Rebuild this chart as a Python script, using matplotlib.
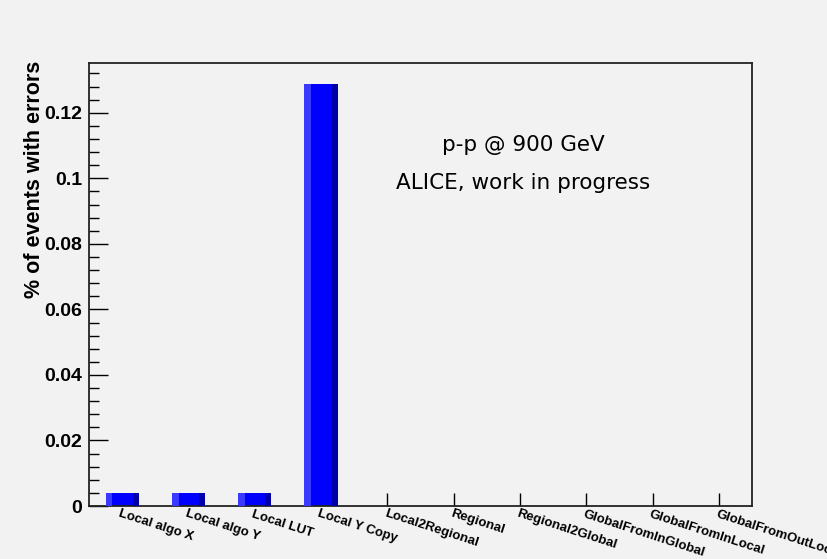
import matplotlib.pyplot as plt
import matplotlib.transforms as mtransforms
from matplotlib.ticker import MultipleLocator, FuncFormatter
import numpy as np

plt.rcParams['font.family'] = ['Liberation Sans', 'DejaVu Sans']

# data
categories = ['Local algo X', 'Local algo Y', 'Local LUT', 'Local Y Copy',
              'Local2Regional', 'Regional', 'Regional2Global',
              'GlobalFromInGlobal', 'GlobalFromInLocal', 'GlobalFromOutLocal']
pct_errors = [0.004, 0.004, 0.004, 0.1288, 0, 0, 0, 0, 0, 0]

bg = '#f2f2f2'
fig = plt.figure(figsize=(8.28, 5.59), dpi=100, facecolor=bg)
ax = fig.add_axes([0.1075, 0.0948, 0.8007, 0.7925])
ax.set_facecolor(bg)

x = np.arange(len(categories))
# ROOT style bar with a light left edge and a dark right edge
ax.bar(x, pct_errors, width=0.5, color='#0000ff', linewidth=0, zorder=2)
ax.bar(x - 0.2, pct_errors, width=0.1, color='#3a3aff', linewidth=0, zorder=3)
ax.bar(x + 0.205, pct_errors, width=0.09, color='#0000a8', linewidth=0, zorder=3)

ax.set_xlim(-0.5, len(categories) - 0.5)
ax.set_ylim(0, 0.1352)

for s in ax.spines.values():
    s.set_linewidth(1.3)
    s.set_color('#222222')

ax.yaxis.set_major_locator(MultipleLocator(0.02))
ax.yaxis.set_minor_locator(MultipleLocator(0.004))
ax.yaxis.set_major_formatter(FuncFormatter(lambda v, p: '%g' % round(v, 4)))
ax.tick_params(axis='y', which='major', direction='in', length=13.5, width=1,
               pad=5, labelsize=14)
ax.tick_params(axis='y', which='minor', direction='in', length=7, width=1)
for lab in ax.get_yticklabels():
    lab.set_fontweight('bold')

ax.set_xticks(x)
ax.set_xticklabels([])
ax.tick_params(axis='x', which='major', direction='in', length=9.5, width=1)

offset = mtransforms.ScaledTranslation(-1 / 100, -2 / 100, fig.dpi_scale_trans)
trans = ax.get_xaxis_transform() + offset
for xi, name in zip(x, categories):
    ax.text(xi, 0, name, transform=trans, rotation=-18, rotation_mode='anchor',
            ha='left', va='top', fontsize=9.5, fontweight='bold', clip_on=False)

fig.text(35 / 828, 1 - 61 / 559, '% of events with errors', rotation=90,
         ha='center', va='top', fontsize=15.5, fontweight='bold')

ax.text(523 / 828, 1 - 145 / 559, 'p-p @ 900 GeV', transform=fig.transFigure,
        ha='center', va='center', fontsize=15.5, family='DejaVu Sans')
ax.text(523 / 828, 1 - 183 / 559, 'ALICE, work in progress', transform=fig.transFigure,
        ha='center', va='center', fontsize=15.5, family='DejaVu Sans')

fig.savefig('out.png', dpi=100, facecolor=bg)
